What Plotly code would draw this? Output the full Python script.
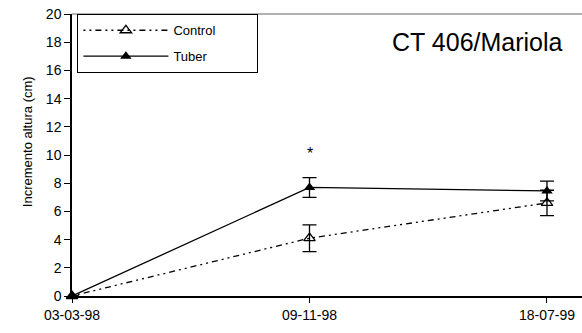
import plotly.graph_objects as go

dates = ["1998-03-03", "1998-11-09", "1999-07-18"]
tick_labels = ["03-03-98", "09-11-98", "18-07-99"]
control = [0, 4.1, 6.6]
control_err = [0, 0.95, 0.9]
tuber = [0, 7.7, 7.45]
tuber_err = [0, 0.7, 0.7]
y_ticks = [0, 2, 4, 6, 8, 10, 12, 14, 16, 18, 20]

NB = "\u00a0"
fig = go.Figure()
fig.add_trace(go.Scatter(
    x=dates, y=control, name="Control" + NB * 10, mode="lines+markers", legendgroup="c",
    line=dict(color="black", width=1.3, dash="2px,4px,2px,4px,6px,4px"),
    marker=dict(symbol="triangle-up-open", size=10, color="black", line=dict(width=1.3)),
    error_y=dict(type="data", array=control_err, color="black", thickness=1.3, width=7),
    cliponaxis=False,
))
fig.add_trace(go.Scatter(
    x=dates, y=tuber, name="Tuber", mode="lines+markers", legendgroup="t",
    line=dict(color="black", width=1.3),
    marker=dict(symbol="triangle-up", size=10, color="black"),
    error_y=dict(type="data", array=tuber_err, color="black", thickness=1.3, width=7),
    cliponaxis=False,
))

fig.add_annotation(x=dates[1], y=10.1, text="*", showarrow=False,
                   font=dict(size=16, color="black"), yanchor="middle")
fig.add_annotation(x=0.967, xref="paper", y=0.9, yref="paper", text="CT 406/Mariola",
                   showarrow=False, xanchor="right", yanchor="middle",
                   font=dict(size=25, color="black"))
fig.add_annotation(x=-0.088, xref="paper", y=0.546, yref="paper",
                   text="Incremento altura (cm)", textangle=-90, showarrow=False,
                   xanchor="center", yanchor="middle", font=dict(size=13, color="black"))
fig.add_shape(type="line", xref="paper", yref="paper", x0=0, x1=1, y0=1, y1=1,
              line=dict(color="#999999", width=1.5))

fig.update_layout(
    width=582, height=333,
    margin=dict(l=72, r=0, t=14, b=37),
    plot_bgcolor="white", paper_bgcolor="white",
    font=dict(family="Liberation Sans, Arial, sans-serif", color="black"),
    showlegend=True,
    legend=dict(x=0.01, y=1, xanchor="left", yanchor="top",
                bordercolor="black", borderwidth=1.3, bgcolor="white",
                itemwidth=85, font=dict(size=13), tracegroupgap=6),
    xaxis=dict(type="date", range=["1998-03-03", "1999-08-24"],
               tickvals=dates, ticktext=tick_labels, ticks="outside", ticklen=5,
               tickcolor="black", showline=True, linecolor="black", linewidth=1.5,
               showgrid=False, zeroline=False, tickfont=dict(size=14),
               ticklabeloverflow="allow"),
    yaxis=dict(range=[0, 20], tickvals=y_ticks, ticks="outside", ticklen=6,
               tickcolor="black", showline=True, linecolor="black", linewidth=1.5,
               showgrid=False, zeroline=False, tickfont=dict(size=14), automargin=False,
               ticklabeloverflow="allow"),
)
fig.write_html("out.html", config={"displayModeBar": False},
               post_script="document.body.style.margin='0';")
